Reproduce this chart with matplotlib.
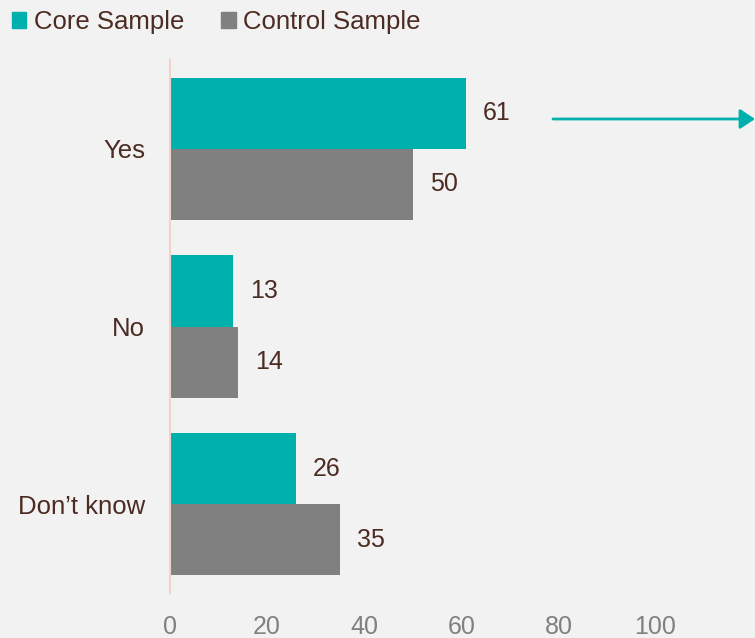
import numpy as np
import matplotlib.pyplot as plt
from matplotlib.patches import Patch

# data
categories = ['Yes', 'No', 'Don\u2019t know']
core_sample = [61, 13, 26]
control_sample = [50, 14, 35]
x_ticks = [0, 20, 40, 60, 80, 100]

teal = '#00B0AD'
grey = '#808080'
text_col = '#4B2B22'
bg = '#F2F2F2'

plt.rcParams['font.family'] = ['Liberation Sans', 'DejaVu Sans']

fig = plt.figure(figsize=(7.55, 6.38), dpi=100, facecolor=bg)
ax = fig.add_axes([170 / 755, 45 / 638, 585 / 755, 533 / 638])
ax.set_facecolor(bg)

y = np.arange(len(categories))
h = 0.4
bars_core = ax.barh(y - h / 2, core_sample, height=h, color=teal)
bars_ctrl = ax.barh(y + h / 2, control_sample, height=h, color=grey)

for bars in (bars_core, bars_ctrl):
    for b in bars:
        w = b.get_width()
        ax.annotate(f'{w:g}', (w, b.get_y() + b.get_height() / 2),
                    xytext=(17, 0), textcoords='offset pixels',
                    ha='left', va='center', fontsize=18, color=text_col)

ax.set_xlim(0, 120.5)
ax.set_ylim(2.5, -0.5)
ax.set_yticks(y)
ax.set_yticklabels(categories, fontsize=18.5, color=text_col)
ax.set_xticks(x_ticks)
ax.set_xticklabels([str(t) for t in x_ticks], fontsize=18, color=grey)
ax.tick_params(axis='both', length=0)
ax.tick_params(axis='y', pad=18)
ax.tick_params(axis='x', pad=16)

for s in ['top', 'right', 'bottom']:
    ax.spines[s].set_visible(False)
ax.spines['left'].set_color('#F2D3CA')
ax.spines['left'].set_linewidth(1.5)

# arrow pointing right from the top bar
ax.annotate('', xy=(1.0, 638 - 119), xycoords=('figure fraction', 'figure pixels'),
            xytext=(553, 638 - 119), textcoords='figure pixels',
            arrowprops=dict(arrowstyle='-|>,head_length=0.9,head_width=0.6',
                            color=teal, lw=2, shrinkA=0, shrinkB=0),
            annotation_clip=False)

handles = [Patch(color=teal, label='Core Sample'),
           Patch(color=grey, label='Control Sample')]
fig.legend(handles=handles, loc='upper left', bbox_to_anchor=(12 / 755, 1 - 10 / 638),
           ncol=2, frameon=False, fontsize=18.5, labelcolor=text_col,
           handlelength=0.55, handleheight=0.55, handletextpad=0.3,
           columnspacing=1.45, borderaxespad=0, borderpad=0)

fig.savefig('out.png', dpi=100, facecolor=bg)
